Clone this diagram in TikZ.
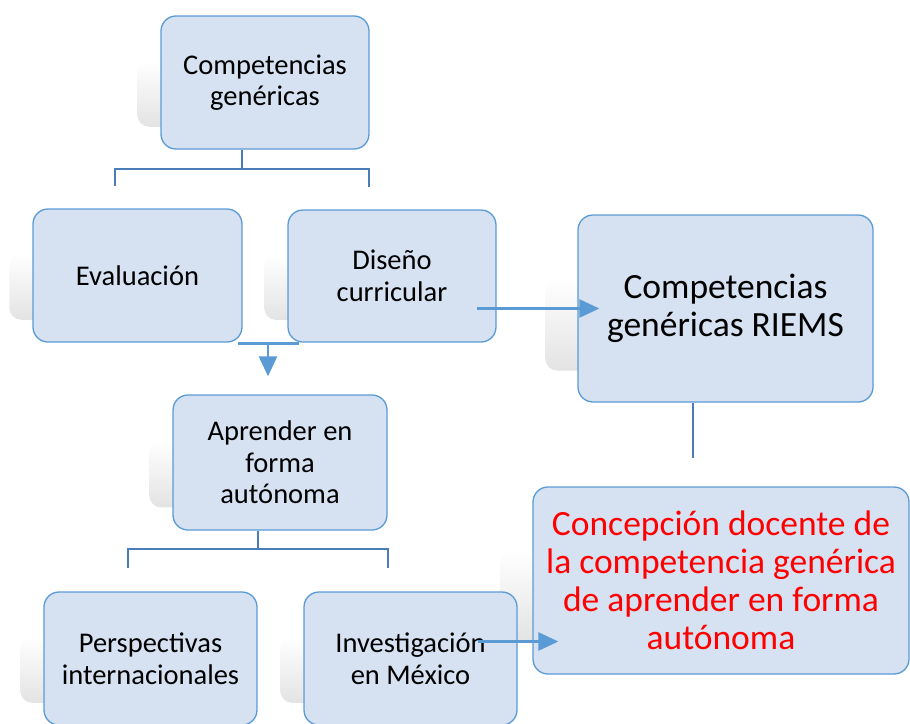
\documentclass[tikz,border=0pt]{standalone}
\usepackage{fontspec}
\setmainfont{Carlito}
\usetikzlibrary{arrows.meta,backgrounds,calc}

\definecolor{boxfill}{HTML}{D6E1F2}
\definecolor{boxline}{HTML}{5B9BD5}
\definecolor{treeline}{HTML}{4A7EBB}
\definecolor{arrowblue}{HTML}{5B9BD5}

% grey reflection to the left of a box
\newcommand{\boxshadow}[2]{%
  \shade[top color=white, bottom color=black!11, rounded corners=12pt]
    ($(#1.north west)!0.34!(#1.south west)+(-#2,0)$) rectangle
    ($(#1.south east)!0.17!(#1.north east)+(-#2,0)$);}

\begin{document}
\begin{tikzpicture}[x=1pt, y=-1pt,
  card/.style={draw=boxline, line width=1.3pt, fill=boxfill, rounded corners=15pt,
    align=center, inner sep=4pt, font=\fontsize{28.5}{31.5}\selectfont},
  bigcard/.style={card, font=\fontsize{35.5}{38}\selectfont},
  tree/.style={draw=treeline, line width=2pt},
  link/.style={draw=arrowblue, line width=2.6pt, -{Triangle[width=18pt,length=20pt]}}]
	\useasboundingbox (0,0) rectangle (910,723);

	\node[card, minimum width=208pt, minimum height=133pt] (comp) at (265,82.5) {Competencias\\genéricas};
	\node[card, minimum width=209pt, minimum height=133pt] (eva) at (137.5,275.5) {Evaluación};
	\node[card, minimum width=208pt, minimum height=132pt] (dis) at (392,276) {Diseño\\curricular};
	\node[bigcard, minimum width=295pt, minimum height=187pt] (riems) at (725.5,308.5) {Competencias\\genéricas RIEMS};
	\node[card, minimum width=214pt, minimum height=135pt] (apr) at (280,462.5) {Aprender en\\forma\\autónoma};
	\node[card, minimum width=213pt, minimum height=133pt] (per) at (150.5,658.5) {Perspectivas\\internacionales};
	\node[card, minimum width=213pt, minimum height=133pt] (inv) at (410.5,658.5) {Investigación\\en México};
	\node[bigcard, text=red, minimum width=376pt, minimum height=187pt] (con) at (721,580.5) {Concepción docente de\\la competencia genérica\\de aprender en forma\\autónoma};

	\begin{scope}[on background layer]
		\boxshadow{comp}{23}
		\boxshadow{eva}{23}
		\boxshadow{dis}{23}
		\boxshadow{riems}{32}
		\boxshadow{apr}{23}
		\boxshadow{per}{23}
		\boxshadow{inv}{23}
		\boxshadow{con}{32}
	\end{scope}

	% brackets
	\coordinate (t1) at ($(eva.north)!0.5!(dis.north)+(-23,-40)$);
	\draw[tree] (t1 |- comp.south) -- (t1);
	\draw[tree] ($(eva.north)+(-23,-22)$) |- (t1) -| ($(dis.north)+(-23,-22)$);
	\coordinate (t2) at ($(per.north)!0.5!(inv.north)+(-23,-42)$);
	\draw[tree] (t2 |- apr.south) -- (t2);
	\draw[tree] ($(per.north)+(-23,-23)$) |- (t2) -| ($(inv.north)+(-23,-23)$);
	\draw[tree] ($(riems.south)+(-32.5,0)$) -- ++(0,55);

	% arrows
	\coordinate (a1) at ($(eva.south east)!0.5!(dis.south west)+(3,1)$);
	\draw[draw=arrowblue, line width=2.6pt] ($(a1)+(-30,0)$) -- ($(a1)+(31,0)$);
	\draw[link] (a1) -- ($(a1 |- apr.north)+(0,-18)$);
	\draw[link] ($(dis.east |- riems.west)+(-20,0)$) -- ($(riems.west)+(22,0)$);
	\draw[link] ($(inv.east)+(-40,-17)$) -- ($(inv.east -| con.west)+(26,-17)$);
\end{tikzpicture}
\end{document}
